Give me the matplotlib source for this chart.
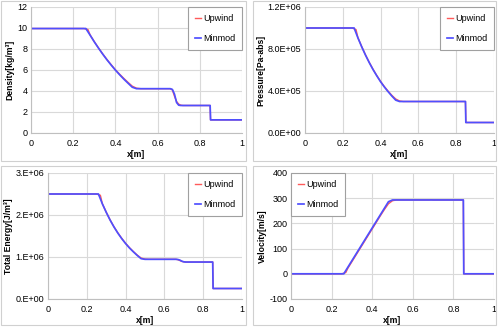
import matplotlib
matplotlib.use('Agg')
import matplotlib.pyplot as plt
from matplotlib.patches import Rectangle
from matplotlib.ticker import FixedLocator, FixedFormatter

plt.rcParams['font.family'] = ['Liberation Sans', 'DejaVu Sans']
plt.rcParams['font.size'] = 6.5

# positions along the tube [m]
x_minmod = [0.0, 0.26, 0.28, 0.30, 0.32, 0.34, 0.36, 0.38, 0.40, 0.42, 0.44, 0.46,
            0.48, 0.50, 0.52, 0.66, 0.67, 0.68, 0.69, 0.70, 0.71, 0.72, 0.849, 0.851, 1.0]
x_upwind = [0.0, 0.25, 0.27, 0.28, 0.30, 0.32, 0.34, 0.36, 0.38, 0.40, 0.42, 0.44, 0.46,
            0.48, 0.50, 0.52, 0.66, 0.67, 0.68, 0.69, 0.70, 0.71, 0.72, 0.849, 0.851, 1.0]

# density [kg/m3]
rho_minmod = [9.95, 9.95, 9.32, 8.68, 8.08, 7.51, 6.97, 6.47, 5.99, 5.55, 5.13, 4.74,
              4.36, 4.22, 4.22, 4.22, 4.15, 3.70, 2.90, 2.65, 2.62, 2.62, 2.62, 1.25, 1.25]
rho_upwind = [9.95, 9.95, 9.85, 9.35, 8.70, 8.10, 7.53, 7.00, 6.50, 6.02, 5.60, 5.20, 4.82,
              4.46, 4.27, 4.22, 4.22, 4.10, 3.50, 3.00, 2.75, 2.65, 2.62, 2.62, 1.25, 1.25]

# pressure [Pa-abs]
p_minmod = [1.0e6, 1.0e6, 9.06e5, 8.21e5, 7.42e5, 6.70e5, 6.04e5, 5.44e5, 4.88e5, 4.38e5,
            3.93e5, 3.51e5, 3.13e5, 3.0e5, 3.0e5, 3.0e5, 3.0e5, 3.0e5, 3.0e5, 3.0e5,
            3.0e5, 3.0e5, 3.0e5, 1.0e5, 1.0e5]
p_upwind = [1.0e6, 1.0e6, 9.85e5, 9.08e5, 8.23e5, 7.45e5, 6.73e5, 6.07e5, 5.47e5, 4.91e5,
            4.42e5, 3.98e5, 3.58e5, 3.24e5, 3.05e5, 3.0e5, 3.0e5, 3.0e5, 3.0e5, 3.0e5,
            3.0e5, 3.0e5, 3.0e5, 3.0e5, 1.0e5, 1.0e5]

# total energy [J/m3]
e_minmod = [2.50e6, 2.50e6, 2.268e6, 2.065e6, 1.88e6, 1.716e6, 1.569e6, 1.438e6, 1.32e6,
            1.215e6, 1.123e6, 1.037e6, 0.96e6, 0.945e6, 0.945e6, 0.945e6, 0.94e6, 0.925e6,
            0.90e6, 0.885e6, 0.88e6, 0.88e6, 0.88e6, 0.25e6, 0.25e6]
e_upwind = [2.50e6, 2.50e6, 2.47e6, 2.27e6, 2.07e6, 1.885e6, 1.72e6, 1.575e6, 1.445e6,
            1.325e6, 1.222e6, 1.13e6, 1.045e6, 0.975e6, 0.95e6, 0.945e6, 0.945e6, 0.935e6,
            0.915e6, 0.895e6, 0.885e6, 0.88e6, 0.88e6, 0.88e6, 0.25e6, 0.25e6]

# velocity [m/s]
u_minmod = [0, 0, 26, 52, 78, 104, 130, 156, 182, 208, 234, 260, 286, 293, 293,
            293, 293, 293, 293, 293, 293, 293, 293, 0, 0]
u_upwind = [0, 0, 5, 22, 48, 74, 100, 126, 152, 178, 204, 230, 255, 278, 290, 293,
            293, 293, 293, 294, 293, 293, 293, 293, 0, 0]

x_ticks = [0, 0.2, 0.4, 0.6, 0.8, 1.0]
x_tick_labels = ['0', '0.2', '0.4', '0.6', '0.8', '1']

W, H = 500, 327
fig = plt.figure(figsize=(W / 100, H / 100), dpi=100)

# light panel frames (chart objects)
for (l, t, r, b) in [(1, 1, 246, 161), (253, 1, 496, 161), (1, 166, 246, 325), (253, 166, 496, 325)]:
    fig.patches.append(Rectangle((l / W, 1 - b / H), (r - l) / W, (b - t) / H,
                                 transform=fig.transFigure, fill=False,
                                 edgecolor='#d0d0d0', linewidth=0.8))


def make_axes(l, t, r, b):
    return fig.add_axes([l / W, 1 - b / H, (r - l) / W, (b - t) / H])


panels = [
    ((31, 7, 242, 133), x_upwind, rho_upwind, x_minmod, rho_minmod, 'Density[kg/m³]',
     [0, 2, 4, 6, 8, 10, 12], ['0', '2', '4', '6', '8', '10', '12'], 'upper right'),
    ((305, 7, 494, 133), x_upwind, p_upwind, x_minmod, p_minmod, 'Pressure[Pa-abs]',
     [0, 4e5, 8e5, 1.2e6], ['0.0E+00', '4.0E+05', '8.0E+05', '1.2E+06'], 'upper right'),
    ((48, 173, 242, 299), x_upwind, e_upwind, x_minmod, e_minmod, 'Total Energy[J/m³]',
     [0, 1e6, 2e6, 3e6], ['0.E+00', '1.E+06', '2.E+06', '3.E+06'], 'upper right'),
    ((291, 173, 494, 299), x_upwind, u_upwind, x_minmod, u_minmod, 'Velocity[m/s]',
     [-100, 0, 100, 200, 300, 400], ['-100', '0', '100', '200', '300', '400'], 'upper left'),
]

for box, xu, yu, xm, ym, ylabel, yticks, ylabels, loc in panels:
    ax = make_axes(*box)
    ax.plot(xu, yu, color='#ff5a5a', linewidth=1.0, label='Upwind')
    ax.plot(xm, ym, color='#4f4fff', linewidth=1.25, label='Minmod')
    ax.set_xlim(0, 1)
    ax.set_ylim(yticks[0], yticks[-1])
    ax.xaxis.set_major_locator(FixedLocator(x_ticks))
    ax.xaxis.set_major_formatter(FixedFormatter(x_tick_labels))
    ax.yaxis.set_major_locator(FixedLocator(yticks))
    ax.yaxis.set_major_formatter(FixedFormatter(ylabels))
    ax.grid(True, color='#d9d9d9', linewidth=0.8)
    ax.set_axisbelow(True)
    for s in ['top', 'right']:
        ax.spines[s].set_visible(False)
    for s in ['left', 'bottom']:
        ax.spines[s].set_color('#bfbfbf')
        ax.spines[s].set_linewidth(0.8)
    ax.tick_params(axis='y', length=0, pad=2.5, labelcolor='#000000')
    ax.tick_params(axis='x', length=0, pad=4, labelcolor='#000000')
    ax.set_xlabel('x[m]', fontweight='bold', fontsize=6.2, labelpad=1.5)
    ax.set_ylabel(ylabel, fontweight='bold', fontsize=6.2, labelpad=2)
    leg = ax.legend(loc=loc, bbox_to_anchor=(0, 0, 1, 1), borderaxespad=0,
                    fancybox=False, framealpha=1, edgecolor='#a0a0a0',
                    handlelength=0.7, handletextpad=0.2, labelspacing=1.25,
                    borderpad=0.75)
    leg.get_frame().set_linewidth(0.8)

fig.savefig('out.png', dpi=100)
